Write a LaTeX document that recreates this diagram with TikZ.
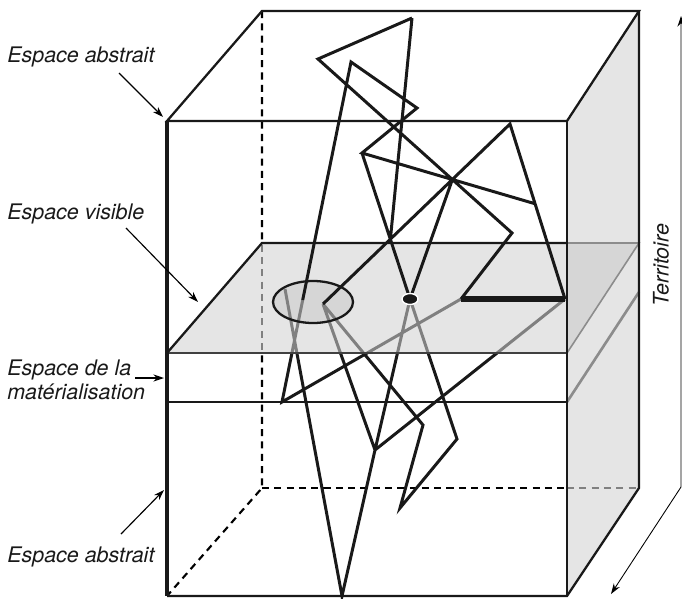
\documentclass[tikz,border=0pt]{standalone}
\usepackage{fontspec}
\setsansfont{TeX Gyre Heros}
\usetikzlibrary{arrows.meta,calc}

% the part of the web that lies under the plane
\newcommand{\webbelow}{(X1)--(K)--(J) (Y)--(L)--(N)--(R) (M)--(N)--(Dt)--(P)--(Q)--(O)--(M)}

\begin{document}
\begin{tikzpicture}[x=0.02cm,y=-0.02cm,
  web/.style={line width=1.7pt,color=black!90},
  under/.style={line width=1.7pt,color=black!50},
  edge/.style={line width=1.3pt,color=black!90},
  hid/.style={line width=1.2pt,dash pattern=on 4pt off 3pt},
  lbl/.style={font=\sffamily\itshape\fontsize{12.2}{14}\selectfont,inner sep=0pt,text=black!90},
  pointer/.style={line width=0.65pt,-{Stealth[length=6pt,width=4pt]}}]
  \useasboundingbox (0,0) rectangle (682,598);

  % box
  \coordinate (ftl) at (167,121); \coordinate (ftr) at (567,121);
  \coordinate (fbl) at (167,596); \coordinate (fbr) at (567,596);
  \coordinate (btl) at (262,11);  \coordinate (btr) at (639,11);
  \coordinate (bbl) at (262,488); \coordinate (bbr) at (639,488);
  % plane and layer
  \coordinate (pfl) at (167,353); \coordinate (pfr) at (567,353);
  \coordinate (pbl) at (262,243); \coordinate (pbr) at (639,243);
  \coordinate (pbm) at (567,243);
  \coordinate (lfl) at (167,402); \coordinate (lfr) at (567,402);
  \coordinate (lbr) at (639,292);
  % web
  \coordinate (A) at (412,18);  \coordinate (B) at (318,59);
  \coordinate (C) at (351,62);  \coordinate (D) at (417,108);
  \coordinate (E) at (362,153); \coordinate (F) at (510,124);
  \coordinate (I) at (512,233); \coordinate (J) at (461,299);
  \coordinate (R) at (565,299); \coordinate (M) at (323,304);
  \coordinate (Dt) at (410,299); \coordinate (K) at (282,402);
  \coordinate (L) at (342,596); \coordinate (N) at (375,450);
  \coordinate (O) at (423,425); \coordinate (Q) at (400,508);
  \coordinate (P) at (457,439); \coordinate (Y) at (285,289);
  \coordinate (X1) at ($(C)!0.7!(K)$);
  \coordinate (G) at (intersection of B--I and F--M);
  \coordinate (H) at (intersection of E--G and F--R);
  \coordinate (X) at (intersection of E--Dt and F--M);

  \fill[black!10] (ftr)--(btr)--(bbr)--(fbr)--cycle;
  \draw[hid] (btl)--(bbl)--(fbl);
  \draw[hid] (bbl)--(567,488);
  \draw[hid,black!50] (567,488)--(bbr);
  \draw[web] \webbelow;

  \fill[black!10] (pfl)--(pbl)--(pbr)--(pfr)--cycle;
  \fill[black!16] (pbm)--(pbr)--(pfr)--cycle;
  \fill[black!16] (313,302) ellipse (40 and 21);
  \begin{scope}
    \clip (pfl)--(pbl)--(pbr)--(pfr)--cycle;
    \draw[under] \webbelow;
    \draw[hid,black!50] (btl)--(bbl);
  \end{scope}
  \draw[line width=1.3pt,black!90] (313,302) ellipse (40 and 21);

  \draw[line width=0.9pt,black!45] (pbm)--(pbr)--(pfr);
  \draw[line width=1.5pt,black!45] (lfr)--(lbr);
  \draw[edge] (pfl)--(pbl)--(pbm);
  \draw[edge,black!75] (pfl)--(pfr);
  \draw[edge] (lfl)--(lfr);
  \draw[edge] (ftl)--(btl)--(btr)--(ftr)--cycle;
  \draw[edge] (btr)--(bbr)--(fbr)--(fbl);
  \draw[edge] (ftr)--(fbr);
  \draw[line width=2pt,black!90] (ftl)--(fbl);

  \draw[web] (A)--(B)--(I)--(J) (A)--(X) (D)--(C)--(X1) (C)--(D)--(E)--(H)
    (E)--(Dt) (G)--(Dt) (M)--(F)--(R);
  \draw[line width=3.4pt,black!90] (J)--(R);
  \fill[black!90,draw=white,line width=0.8pt] (Dt) ellipse (8 and 5.5);

  % labels
  \node[lbl,anchor=base west] (abs1) at (7,63) {Espace abstrait};
  \node[lbl,anchor=base west] (vis) at (7,219) {Espace visible};
  \node[lbl,anchor=base west] (mat1) at (7,375) {Espace de la};
  \node[lbl,anchor=base west] (mat2) at (7,399) {matérialisation};
  \node[lbl,anchor=base west] (abs2) at (7,562) {Espace abstrait};
  \node[lbl,rotate=90] (terr) at (661,265) {Territoire};

  \coordinate (a1) at (119,73);  \coordinate (a1t) at (163,117);
  \coordinate (a2) at (126,228); \coordinate (a2t) at (198,302);
  \coordinate (a3) at (135,378); \coordinate (a3t) at (164,378);
  \coordinate (a4) at (121,534); \coordinate (a4t) at (164,490);
  \draw[pointer] (a1)--(a1t);
  \draw[pointer] (a2)--(a2t);
  \draw[pointer] (a3)--(a3t);
  \draw[pointer] (a4)--(a4t);
  \coordinate (tt) at (681,16); \coordinate (tm) at (681,487);
  \coordinate (tb) at (611,594);
  \draw[line width=0.5pt,{Stealth[length=6pt,width=4pt]}-{Stealth[length=6pt,width=4pt]}]
    (tt)--(tm)--(tb);
\end{tikzpicture}
\end{document}
